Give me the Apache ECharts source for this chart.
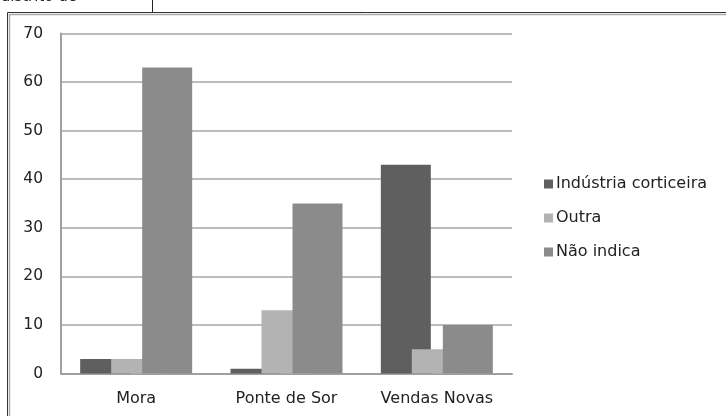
<!DOCTYPE html>
<html><head><meta charset="utf-8">
<script src="https://cdn.jsdelivr.net/npm/echarts@6/dist/echarts.min.js"></script>
<style>html,body{margin:0;padding:0;background:#fff}#c{width:726px;height:416px}</style>
</head><body><div id="c"></div>
<script>
var categories = ['Mora', 'Ponte de Sor', 'Vendas Novas'];
var seriesNames = ['Indústria corticeira', 'Outra', 'Não indica'];
var industria = [3, 1, 43];
var outra = [3, 13, 5];
var naoIndica = [63, 35, 10];
var colors = ['#5f5f5f', '#b3b3b3', '#8b8b8b'];
var font = 'DejaVu Sans';

var chart = echarts.init(document.getElementById('c'), null, {renderer: 'canvas'});
function mk(name, data, color) {
  return {name: name, type: 'bar', data: data, barWidth: 50, barGap: '-38%',
    itemStyle: {color: color}, emphasis: {disabled: true}, animation: false};
}
chart.setOption({
  animation: false,
  textStyle: {fontFamily: font},
  grid: {left: 61, right: 214, top: 33.5, bottom: 42.5, containLabel: false},
  legend: {orient: 'vertical', left: 544, top: 176, padding: 0, itemWidth: 9, itemHeight: 9, itemGap: 18,
    icon: 'rect', data: seriesNames,
    textStyle: {fontFamily: font, fontSize: 16, color: '#222', padding: [0, 0, 0, -2]}},
  xAxis: {type: 'category', data: categories,
    axisLine: {lineStyle: {color: '#a0a0a0', width: 2}}, axisTick: {show: false},
    axisLabel: {fontFamily: font, fontSize: 16, color: '#222', margin: 17}},
  yAxis: {type: 'value', min: 0, max: 70, interval: 10,
    axisLine: {show: true, lineStyle: {color: '#a0a0a0', width: 2}}, axisTick: {show: false},
    splitLine: {lineStyle: {color: '#a6a6a6', width: 1.5}},
    axisLabel: {fontFamily: font, fontSize: 15.5, color: '#222', margin: 18}},
  series: [mk(seriesNames[0], industria, colors[0]), mk(seriesNames[1], outra, colors[1]), mk(seriesNames[2], naoIndica, colors[2])],
  graphic: [
    {type: 'polyline', silent: true, shape: {points: [[7.5, 416], [7.5, 12.5], [726, 12.5]]}, style: {stroke: '#333', lineWidth: 1, fill: null}},
    {type: 'polyline', silent: true, shape: {points: [[9.5, 416], [9.5, 14.5], [726, 14.5]]}, style: {stroke: '#aaa', lineWidth: 1.5, fill: null}},
    {type: 'line', silent: true, shape: {x1: 152.5, y1: 0, x2: 152.5, y2: 12}, style: {stroke: '#222', lineWidth: 1}},
    {type: 'text', silent: true, x: 77, y: 5, style: {text: 'distrito de', font: '15px DejaVu Sans', fill: '#222', align: 'right', verticalAlign: 'bottom'}}
  ]
});
</script></body></html>
